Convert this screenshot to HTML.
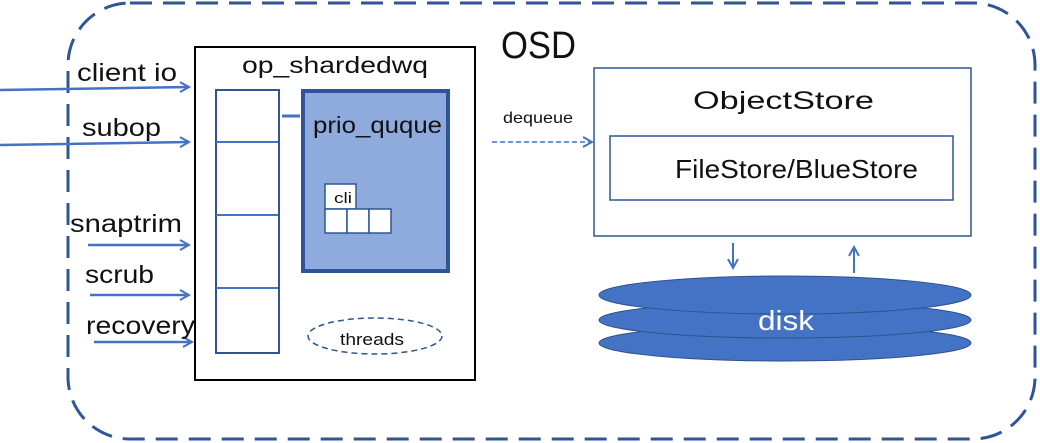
<!DOCTYPE html>
<html><head><meta charset="utf-8"><style>
html,body{margin:0;padding:0;background:#fff;width:1040px;height:443px;overflow:hidden}
svg{display:block}
text{font-family:"Liberation Sans","DejaVu Sans",sans-serif;fill:#111}
</style></head><body>
<svg width="1040" height="443" viewBox="0 0 1040 443" xmlns="http://www.w3.org/2000/svg">
<defs>
<marker id="a" markerWidth="12" markerHeight="12" refX="10" refY="6" orient="auto" markerUnits="userSpaceOnUse">
<path d="M1,1 L10,6 L1,11" fill="none" stroke="#4472c4" stroke-width="2"/></marker>
</defs>
<rect x="68" y="3" width="967" height="436" rx="62" fill="none" stroke="#2f5597" stroke-width="3" stroke-dasharray="22,11"/>
<text x="501" y="58" font-size="38" textLength="75" lengthAdjust="spacingAndGlyphs">OSD</text>

<rect x="195" y="47" width="280" height="333" fill="#fff" stroke="#000" stroke-width="2"/>
<text x="242" y="73" font-size="23" textLength="186" lengthAdjust="spacingAndGlyphs">op_shardedwq</text>
<rect x="216" y="90" width="63" height="263" fill="#fff" stroke="#2f5597" stroke-width="2"/>
<line x1="216" y1="142" x2="278" y2="142" stroke="#4472c4" stroke-width="2"/>
<line x1="216" y1="215" x2="278" y2="215" stroke="#4472c4" stroke-width="2"/>
<line x1="216" y1="288" x2="278" y2="288" stroke="#4472c4" stroke-width="2"/>
<line x1="282" y1="116" x2="300" y2="116" stroke="#4472c4" stroke-width="3"/>
<rect x="303" y="91" width="145" height="180" fill="#8faadc" stroke="#2f5597" stroke-width="4"/>
<text x="313" y="133" font-size="23" textLength="129" lengthAdjust="spacingAndGlyphs">prio_quque</text>
<rect x="325" y="184" width="31" height="25" fill="#fff" stroke="#2f5597" stroke-width="1.5"/>
<text x="334" y="203" font-size="15" textLength="18" lengthAdjust="spacingAndGlyphs">cli</text>
<rect x="325" y="209" width="22" height="24" fill="#fff" stroke="#2f5597" stroke-width="1.5"/>
<rect x="347" y="209" width="22" height="24" fill="#fff" stroke="#2f5597" stroke-width="1.5"/>
<rect x="369" y="209" width="22" height="24" fill="#fff" stroke="#2f5597" stroke-width="1.5"/>
<ellipse cx="375" cy="336" rx="67" ry="18" fill="none" stroke="#2f5597" stroke-width="1.5" stroke-dasharray="6,4"/>
<text x="340" y="345" font-size="17" textLength="64" lengthAdjust="spacingAndGlyphs">threads</text>

<g stroke="#4472c4" stroke-width="2.5" marker-end="url(#a)">
<line x1="0" y1="90" x2="189" y2="87"/>
<line x1="0" y1="145" x2="189" y2="142"/>
<line x1="88" y1="245" x2="189" y2="245"/>
<line x1="90" y1="295" x2="189" y2="295"/>
<line x1="94" y1="342" x2="192" y2="342"/>
</g>
<text x="77" y="81" font-size="25" textLength="100" lengthAdjust="spacingAndGlyphs">client io</text>
<text x="82" y="136" font-size="25" textLength="79" lengthAdjust="spacingAndGlyphs">subop</text>
<text x="70" y="232" font-size="25" textLength="112" lengthAdjust="spacingAndGlyphs">snaptrim</text>
<text x="85" y="283" font-size="25" textLength="69" lengthAdjust="spacingAndGlyphs">scrub</text>
<text x="86" y="334" font-size="25" textLength="109" lengthAdjust="spacingAndGlyphs">recovery</text>

<line x1="492" y1="142" x2="592" y2="142" stroke="#4472c4" stroke-width="1.5" stroke-dasharray="5,3" marker-end="url(#a)"/>
<text x="503" y="123" font-size="16" textLength="70" lengthAdjust="spacingAndGlyphs">dequeue</text>

<rect x="594" y="68" width="377" height="168" fill="#fff" stroke="#2f5597" stroke-width="1.5"/>
<text x="693" y="109" font-size="25" textLength="181" lengthAdjust="spacingAndGlyphs">ObjectStore</text>
<rect x="610" y="136" width="343" height="64" fill="#fff" stroke="#2f5597" stroke-width="1.5"/>
<text x="675" y="178" font-size="26" textLength="243" lengthAdjust="spacingAndGlyphs">FileStore/BlueStore</text>

<g stroke="#4472c4" stroke-width="2" marker-end="url(#a)">
<line x1="733" y1="243" x2="733" y2="268"/>
<line x1="854" y1="273" x2="854" y2="247"/>
</g>
<ellipse cx="785" cy="343" rx="186" ry="18" fill="#4472c4" stroke="#2f528f" stroke-width="1"/>
<ellipse cx="785" cy="320" rx="186" ry="18" fill="#4472c4" stroke="#2f528f" stroke-width="1"/>
<ellipse cx="785" cy="295" rx="186" ry="19" fill="#4472c4" stroke="#2f528f" stroke-width="1"/>
<text x="758" y="330" font-size="28" textLength="56" lengthAdjust="spacingAndGlyphs" style="fill:#fff">disk</text>
</svg>
</body></html>
